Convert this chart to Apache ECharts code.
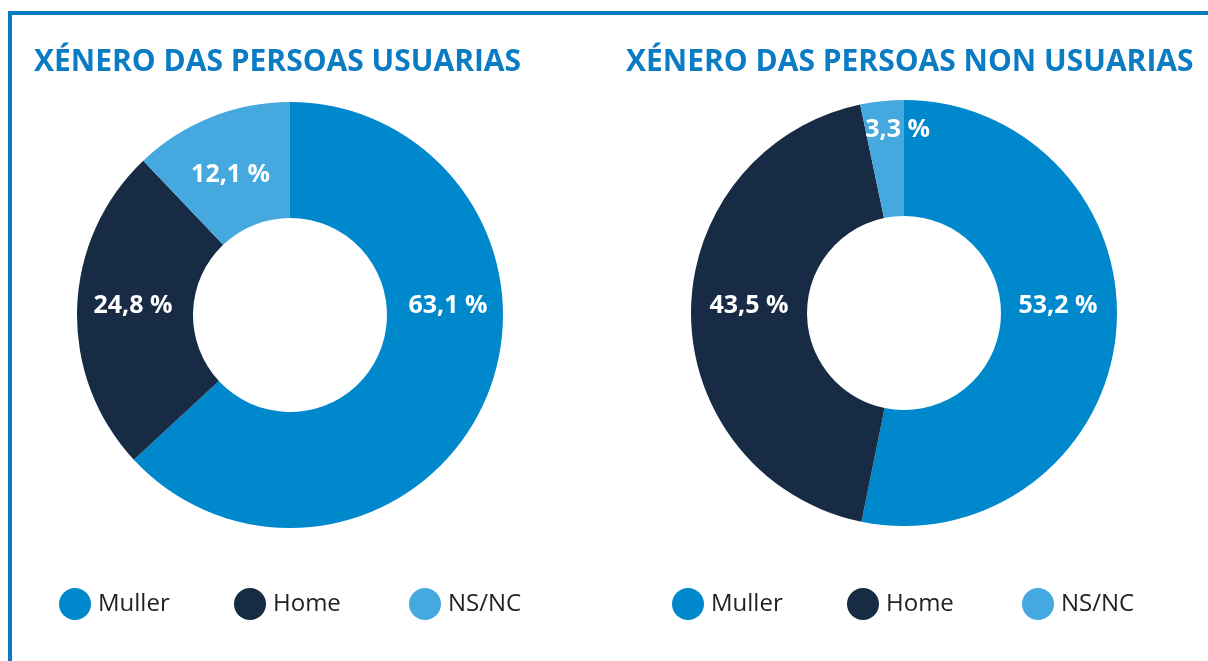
<!DOCTYPE html>
<html>
<head>
<meta charset="utf-8">
<script src="https://cdn.jsdelivr.net/npm/echarts@6/dist/echarts.min.js"></script>
<style>
html, body { margin: 0; padding: 0; background: #fff; }
#main { width: 1208px; height: 661px; }
</style>
</head>
<body>
<div id="main"></div>
<script>
// categorías e valores
var categories = ['Muller', 'Home', 'NS/NC'];
var usuarias = [63.1, 24.8, 12.1];
var nonUsuarias = [53.2, 43.5, 3.3];
var titles = ['XÉNERO DAS PERSOAS USUARIAS', 'XÉNERO DAS PERSOAS NON USUARIAS'];

var colors = ['#0088cc', '#172b45', '#45a8de'];
var centers = [[290, 315], [904, 313]];
// onde vai cada etiqueta (ángulo en graos desde arriba, raio, axuste vertical)
var labelPos = [
    [[90, 158, -9], [270, 157, -9], [337, 152, 0]],
    [[90, 154, -7], [270, 155, -7], [358, 183, 0]]
];
// posición esquerda de cada lenda
var legendLeft = [[59, 234, 409], [672, 847, 1022]];

function fmt(v) {
    return v.toFixed(1).replace('.', ',') + ' %';
}

function makeData(vals) {
    return vals.map(function (v, i) {
        return { name: categories[i], value: v, itemStyle: { color: colors[i] } };
    });
}

var chart = echarts.init(document.getElementById('main'));

var series = [usuarias, nonUsuarias].map(function (vals, s) {
    return {
        type: 'pie',
        center: centers[s],
        radius: [97, 213],
        startAngle: 90,
        clockwise: true,
        silent: true,
        avoidLabelOverlap: false,
        data: makeData(vals),
        label: {
            show: true,
            position: 'inside',
            formatter: function (p) { return fmt(p.value); },
            color: '#fff',
            fontFamily: 'Open Sans',
            fontWeight: 'bold',
            fontSize: 25
        },
        labelLine: { show: false },
        labelLayout: function (p) {
            var lp = labelPos[s][p.dataIndex];
            var a = lp[0] * Math.PI / 180;
            return {
                x: centers[s][0] + lp[1] * Math.sin(a),
                y: centers[s][1] - lp[1] * Math.cos(a) + lp[2],
                align: 'center',
                verticalAlign: 'middle'
            };
        }
    };
});

var legends = [];
[0, 1].forEach(function (s) {
    categories.forEach(function (c, i) {
        legends.push({
            seriesIndex: s,
            data: [c],
            left: legendLeft[s][i],
            top: 588,
            padding: 0,
            icon: 'circle',
            itemWidth: 32,
            itemHeight: 32,
            selectedMode: false,
            textStyle: {
                color: '#222',
                fontFamily: 'Open Sans',
                fontSize: 24,
                padding: [0, 0, 0, 2]
            }
        });
    });
});

chart.setOption({
    animation: false,
    title: titles.map(function (t, i) {
        return {
            text: t,
            left: i === 0 ? 29 : 621,
            top: 42,
            textStyle: {
                color: '#0a7cc4',
                fontFamily: 'Open Sans',
                fontWeight: 'bold',
                fontSize: 30
            }
        };
    }),
    legend: legends,
    graphic: [
        { type: 'rect', shape: { x: 8, y: 11, width: 1200, height: 4 }, style: { fill: '#0a7cc4' } },
        { type: 'rect', shape: { x: 8, y: 11, width: 4, height: 650 }, style: { fill: '#0a7cc4' } }
    ],
    series: series
});
</script>
</body>
</html>
